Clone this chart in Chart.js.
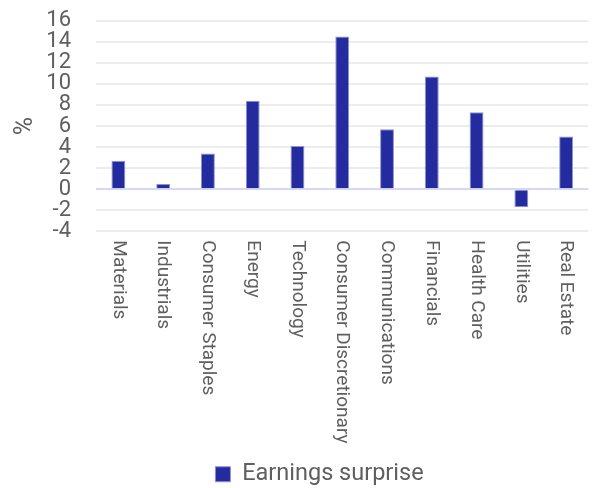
<!DOCTYPE html>
<html>
<head>
<meta charset="utf-8">
<script src="https://cdn.jsdelivr.net/npm/chart.js@4"></script>
<style>
  html, body { margin: 0; padding: 0; background: #fff; }
  #wrap { width: 593px; height: 488px; }
</style>
</head>
<body>
<div id="wrap"><canvas id="bars"></canvas></div>
<script>
const sectors = ['Materials', 'Industrials', 'Consumer Staples', 'Energy', 'Technology',
  'Consumer Discretionary', 'Communications', 'Financials', 'Health Care', 'Utilities', 'Real Estate'];
const surprise = [2.7, 0.5, 3.4, 8.4, 4.1, 14.5, 5.7, 10.7, 7.3, -1.7, 5.0];
const yMin = -4;
const yMax = 16;

const textGrey = '#5f5f5f';
const fontFamily = 'Roboto, "Noto Sans", sans-serif';
const xFontSize = 19;
const xGap = 9;
const legendShift = { x: 22, y: 8 };

// chart.js turns rotated labels to read bottom-up; the original reads top-down,
// so the real ticks only reserve space and this redraws them the other way
const topDownLabels = {
  id: 'topDownLabels',
  afterDraw(chart) {
    const scale = chart.scales.x;
    const ctx = chart.ctx;
    ctx.save();
    ctx.fillStyle = textGrey;
    ctx.font = xFontSize + 'px ' + fontFamily;
    ctx.textAlign = 'left';
    ctx.textBaseline = 'middle';
    scale.ticks.forEach((t, i) => {
      const x = scale.getPixelForTick(i);
      ctx.save();
      ctx.translate(x, scale.top + xGap);
      ctx.rotate(Math.PI / 2);
      ctx.fillText(sectors[i], 0, 0);
      ctx.restore();
    });
    ctx.restore();
  }
};

// the legend in the original sits a little right of centre and lower down
function moveLegend(lg, dx, dy) {
  lg.left += dx; lg.right += dx;
  lg.top += dy; lg.bottom += dy;
}
const nudgeLegend = {
  id: 'nudgeLegend',
  beforeDraw(chart) { moveLegend(chart.legend, legendShift.x, legendShift.y); },
  afterDraw(chart) { moveLegend(chart.legend, -legendShift.x, -legendShift.y); }
};

new Chart(document.getElementById('bars'), {
  type: 'bar',
  data: {
    labels: sectors,
    datasets: [{
      label: 'Earnings surprise',
      data: surprise,
      backgroundColor: '#232b9e',
      borderColor: '#8c91d4',
      borderWidth: 1,
      barPercentage: 0.31,
      categoryPercentage: 1
    }]
  },
  options: {
    responsive: true,
    maintainAspectRatio: false,
    animation: false,
    layout: { padding: { left: 4, right: 2, top: 2, bottom: 0 } },
    plugins: {
      legend: {
        position: 'bottom',
        labels: {
          color: textGrey,
          font: { family: fontFamily, size: 23.5 },
          boxWidth: 15,
          boxHeight: 15,
          padding: 4
        }
      },
      tooltip: { enabled: false }
    },
    scales: {
      x: {
        grid: { display: false },
        border: { display: false },
        ticks: {
          color: 'rgba(0,0,0,0)',
          font: { family: fontFamily, size: xFontSize },
          minRotation: 90,
          maxRotation: 90,
          autoSkip: false,
          padding: 4
        }
      },
      y: {
        min: yMin,
        max: yMax,
        border: { display: false },
        afterFit(scale) {
          // tick padding would otherwise push the top of the plot down too
          scale.width = 92;
          scale.paddingTop = 20.7;
        },
        grid: {
          color: (ctx) => ctx.tick && ctx.tick.value === 0 ? '#d6d8f2' : '#ececec',
          lineWidth: 2,
          drawTicks: false
        },
        ticks: {
          stepSize: 2,
          autoSkip: false,
          color: textGrey,
          font: { family: fontFamily, size: 22 },
          padding: 25
        },
        title: {
          display: true,
          text: '%',
          color: textGrey,
          font: { family: fontFamily, size: 25 },
          padding: { top: 7, bottom: 10 }
        }
      }
    }
  },
  plugins: [topDownLabels, nudgeLegend]
});
</script>
</body>
</html>
